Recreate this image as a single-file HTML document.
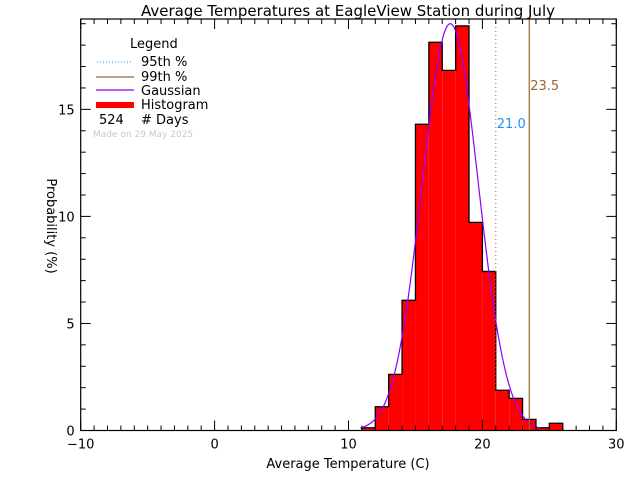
<!DOCTYPE html>
<html><head><meta charset="utf-8"><style>
body{margin:0;background:#fff;}
svg{display:block;font-family:"DejaVu Sans","Liberation Sans",sans-serif;}
</style></head><body>
<svg id="chart" width="640" height="480" viewBox="0 0 640 480">
<rect width="640" height="480" fill="#fff"/>
<g id="marks"></g>
<g id="axes"></g>
<text x="348" y="16" font-size="15" text-anchor="middle">Average Temperatures at EagleView Station during July</text>
<text x="348" y="468" font-size="13" text-anchor="middle">Average Temperature (C)</text>
<text transform="translate(47,226) rotate(90)" font-size="13" text-anchor="middle">Probability  (%)</text>
<g font-size="13">
<text x="130" y="48">Legend</text>
<line x1="97" y1="62" x2="133" y2="62" stroke="#1e90ff" stroke-dasharray="1,2"/>
<text x="141" y="66">95th %</text>
<line x1="96" y1="77" x2="134" y2="77" stroke="#a0642d" stroke-width="1.2"/>
<text x="141" y="81">99th %</text>
<line x1="96" y1="90" x2="134" y2="90" stroke="#8a00ff" stroke-width="1.2"/>
<text x="141" y="95">Gaussian</text>
<rect x="96" y="102" width="38" height="6" fill="#ff0000"/>
<text x="141" y="109">Histogram</text>
<text x="99" y="124">524</text>
<text x="141" y="124"># Days</text>
<text x="93" y="137" font-size="9" fill="#c8c8c8">Made on 29 May 2025</text>
</g>
</svg>
<script>
const binStarts=[11,12,13,14,15,16,17,18,19,20,21,22,23,24,25];
const binValues=[0.13,1.11,2.62,6.08,14.30,18.13,16.82,18.9,9.72,7.43,1.88,1.50,0.52,0.13,0.34];
const xTicks=[-10,0,10,20,30];
const yTicks=[0,5,10,15];
const gaussMean=17.6, gaussSigma=2.1, gaussAmp=19.0;
const pct95=21.0, pct99=23.5;
const X0=80.7,X1=616.3,Y0=430.5,Y1=19,xmin=-10,xmax=30,ymin=0,ymax=19.22;
const sx=v=>X0+(v-xmin)/(xmax-xmin)*(X1-X0);
const sy=v=>Y0-(v-ymin)/(ymax-ymin)*(Y0-Y1);
const NS="http://www.w3.org/2000/svg";
const marks=document.getElementById('marks'),axes=document.getElementById('axes');
function mk(tag,attrs,parent){const e=document.createElementNS(NS,tag);for(const k in attrs)e.setAttribute(k,attrs[k]);parent.appendChild(e);return e;}
// histogram bars
binStarts.forEach((b,i)=>{
 const r=mk('rect',{x:sx(b),y:sy(binValues[i]),width:sx(b+1)-sx(b),height:Y0-sy(binValues[i]),fill:'#ff0000'},marks);
 
 
});
// outline
let d='M'+sx(binStarts[0])+','+Y0;
binStarts.forEach((b,i)=>{d+=' L'+sx(b)+','+sy(binValues[i])+' L'+sx(b+1)+','+sy(binValues[i]);});
d+=' L'+sx(binStarts[binStarts.length-1]+1)+','+Y0;
const ol=mk('path',{d:d,fill:'none',stroke:'#000','stroke-width':1.3},marks);


// gaussian
let gd='';
for(let t=gaussMean-3.2*gaussSigma;t<=gaussMean+3.2*gaussSigma;t+=0.05){
 const v=gaussAmp*Math.exp(-Math.pow(t-gaussMean,2)/(2*gaussSigma*gaussSigma));
 gd+=(gd?' L':'M')+sx(t).toFixed(2)+','+sy(v).toFixed(2);
}
const g=mk('path',{d:gd,fill:'none',stroke:'#8a00ff','stroke-width':1.2},marks);


// percentile lines
const l95=mk('line',{x1:sx(pct95),x2:sx(pct95),y1:Y1,y2:Y0,stroke:'#a0642d','stroke-dasharray':'1,3'},marks);


const t95=mk('text',{x:sx(pct95)+1,y:128,'font-size':13,fill:'#1e90ff'},marks);t95.textContent=pct95.toFixed(1);


const l99=mk('line',{x1:sx(pct99),x2:sx(pct99),y1:Y1,y2:Y0,stroke:'#a0642d','stroke-width':1.2},marks);


const t99=mk('text',{x:sx(pct99)+1,y:90,'font-size':13,fill:'#a0642d'},marks);t99.textContent=pct99.toFixed(1);


// frame
const fr=mk('rect',{x:X0,y:Y1,width:X1-X0,height:Y0-Y1,fill:'none',stroke:'#000','stroke-width':1.2},axes);


// x minor/major ticks
for(let v=xmin;v<=xmax;v++){
 const maj=xTicks.includes(v),L=maj?10:5;
 mk('line',{x1:sx(v),x2:sx(v),y1:Y0,y2:Y0-L,stroke:'#000'},axes);
 mk('line',{x1:sx(v),x2:sx(v),y1:Y1,y2:Y1+L,stroke:'#000'},axes);
}
xTicks.forEach(v=>{const t=mk('text',{x:sx(v),y:Y0+18,'font-size':13,'text-anchor':'middle'},axes);t.textContent=v<0?'\u2212'+(-v):v;
 
 });
for(let v=0;v<=Math.floor(ymax);v++){
 const maj=yTicks.includes(v),L=maj?10:5;
 mk('line',{x1:X0,x2:X0+L,y1:sy(v),y2:sy(v),stroke:'#000'},axes);
 mk('line',{x1:X1,x2:X1-L,y1:sy(v),y2:sy(v),stroke:'#000'},axes);
}
yTicks.forEach(v=>{const t=mk('text',{x:X0-6,y:sy(v)+5,'font-size':13,'text-anchor':'end'},axes);t.textContent=v;
 
 });
</script>
</body></html>
